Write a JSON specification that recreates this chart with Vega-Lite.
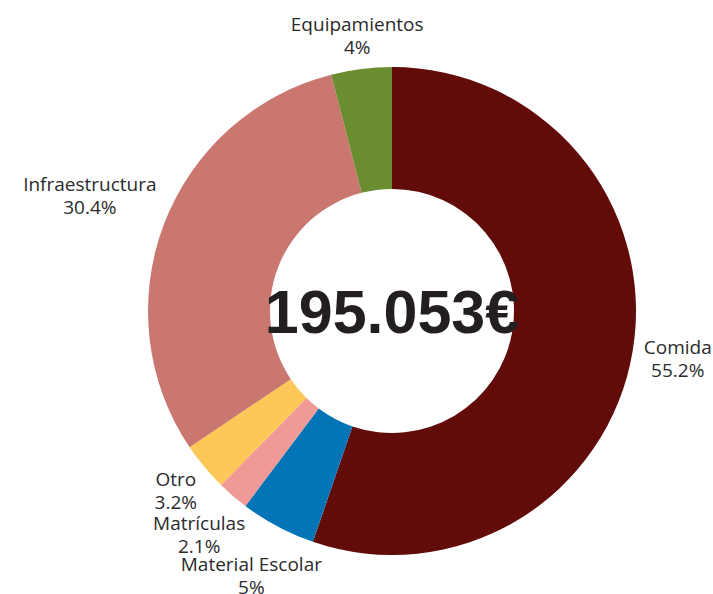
{
  "$schema": "https://vega.github.io/schema/vega-lite/v6.json",
  "autosize": {"type": "none"},
  "width": 642,
  "height": 566,
  "padding": {"left": 71, "top": 28, "right": 0, "bottom": 0},
  "background": "white",
  "config": {"view": {"stroke": null}},
  "layer": [
    {
      "data": {
        "values": [
          {"idx": 1, "category": "Comida", "share": 0.552},
          {"idx": 2, "category": "Material Escolar", "share": 0.05},
          {"idx": 3, "category": "Matrículas", "share": 0.021},
          {"idx": 4, "category": "Otro", "share": 0.032},
          {"idx": 5, "category": "Infraestructura", "share": 0.304},
          {"idx": 6, "category": "Equipamientos", "share": 0.04}
        ]
      },
      "encoding": {
        "theta": {"field": "share", "type": "quantitative", "stack": true},
        "order": {"field": "idx", "type": "quantitative"}
      },
      "layer": [
        {
          "mark": {"type": "arc", "innerRadius": 122, "outerRadius": 244},
          "encoding": {
            "color": {
              "field": "category",
              "type": "nominal",
              "scale": {
                "domain": ["Comida", "Material Escolar", "Matrículas", "Otro", "Infraestructura", "Equipamientos"],
                "range": ["#610c09", "#0374b5", "#ef9a97", "#fdc858", "#c9776f", "#6a8d2f"]
              },
              "legend": null
            }
          }
        },
        {
          "mark": {
            "type": "text",
            "radius": {"expr": "265 + 4 * length(datum.category) * abs(sin(PI * (datum.share_start + datum.share_end) / 0.999)) + 6 * abs(cos(PI * (datum.share_start + datum.share_end) / 0.999))"},
            "dy": -11,
            "fontSize": 19,
            "font": "Open Sans",
            "baseline": "middle",
            "align": "center",
            "fill": "#2b2b2b"
          },
          "encoding": {
            "text": {"field": "category", "type": "nominal"},
            "detail": {"field": "category", "type": "nominal"}
          }
        },
        {
          "mark": {
            "type": "text",
            "radius": {"expr": "265 + 4 * length(datum.category) * abs(sin(PI * (datum.share_start + datum.share_end) / 0.999)) + 6 * abs(cos(PI * (datum.share_start + datum.share_end) / 0.999))"},
            "dy": 12,
            "fontSize": 19,
            "font": "Open Sans",
            "baseline": "middle",
            "align": "center",
            "fill": "#2b2b2b"
          },
          "encoding": {
            "text": {"field": "share", "type": "quantitative", "format": ".1~%"},
            "detail": {"field": "category", "type": "nominal"}
          }
        }
      ]
    },
    {
      "data": {"values": [{"total": "195.053€"}]},
      "mark": {
        "type": "text",
        "font": "Liberation Sans",
        "fontWeight": "bold",
        "fontSize": 61,
        "dy": 4,
        "baseline": "middle",
        "align": "center",
        "fill": "#231f20"
      },
      "encoding": {"text": {"field": "total", "type": "nominal"}}
    }
  ]
}
